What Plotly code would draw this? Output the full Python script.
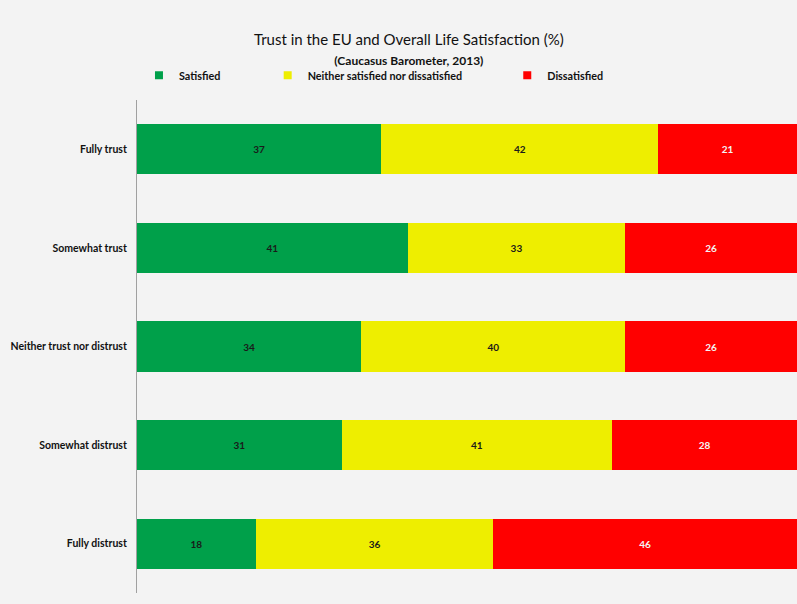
import plotly.graph_objects as go

categories = ["Fully trust", "Somewhat trust", "Neither trust nor distrust", "Somewhat distrust", "Fully distrust"]
satisfied = [37, 41, 34, 31, 18]
neither = [42, 33, 40, 41, 36]
dissatisfied = [21, 26, 26, 28, 46]

series = [
    ("Satisfied", satisfied, "#00a04a", "#1a1a1a", "legend", 0.003),
    ("Neither satisfied nor dissatisfied", neither, "#eeee00", "#1a1a1a", "legend2", 0.198),
    ("Dissatisfied", dissatisfied, "#ff0000", "#f4f4f4", "legend3", 0.561),
]

font_fam = "Lato"
fig = go.Figure()
for name, vals, color, tcolor, leg, lx in series:
    fig.add_trace(go.Bar(
        y=categories, x=vals, name=name, orientation="h",
        marker=dict(color=color, line=dict(width=0)),
        text=[str(v) for v in vals], textposition="inside", insidetextanchor="middle",
        textfont=dict(family=font_fam, size=10, color=tcolor, weight="bold"),
        showlegend=False, hoverinfo="skip",
    ))
    fig.add_trace(go.Scatter(
        x=[None], y=[None], mode="markers", name=name,
        marker=dict(symbol="square", size=8, color=color),
        legend=leg, showlegend=True, hoverinfo="skip",
    ))

leg_common = dict(orientation="h", yanchor="middle", y=1.05, xanchor="left",
                  font=dict(family=font_fam, size=10.8, color="#111111", weight="bold"),
                  bgcolor="rgba(0,0,0,0)", itemwidth=30, tracegroupgap=0)
fig.update_layout(
    barmode="stack",
    bargap=0.49,
    width=797, height=604,
    margin=dict(l=137, r=0, t=100, b=11),
    paper_bgcolor="#f3f3f3", plot_bgcolor="#f3f3f3",
    title=dict(
        text="Trust in the EU and Overall Life Satisfaction (%)<br><span style='font-size:12px'><b>(Caucasus Barometer, 2013)</b></span>",
        x=0.513, xanchor="center", y=0.925, yanchor="middle",
        font=dict(family=font_fam, size=15, color="#111111"),
    ),
    legend=dict(x=series[0][5], **leg_common),
    legend2=dict(x=series[1][5], **leg_common),
    legend3=dict(x=series[2][5], **leg_common),
    xaxis=dict(range=[0, 100], visible=False, fixedrange=True),
    yaxis=dict(
        autorange="reversed", showline=True, linecolor="#a0a0a0", linewidth=1,
        showgrid=False, ticks="", ticklabelstandoff=7,
        tickfont=dict(family=font_fam, size=10.5, color="#111111", weight="bold"),
    ),
)
fig.write_html("out.html")
